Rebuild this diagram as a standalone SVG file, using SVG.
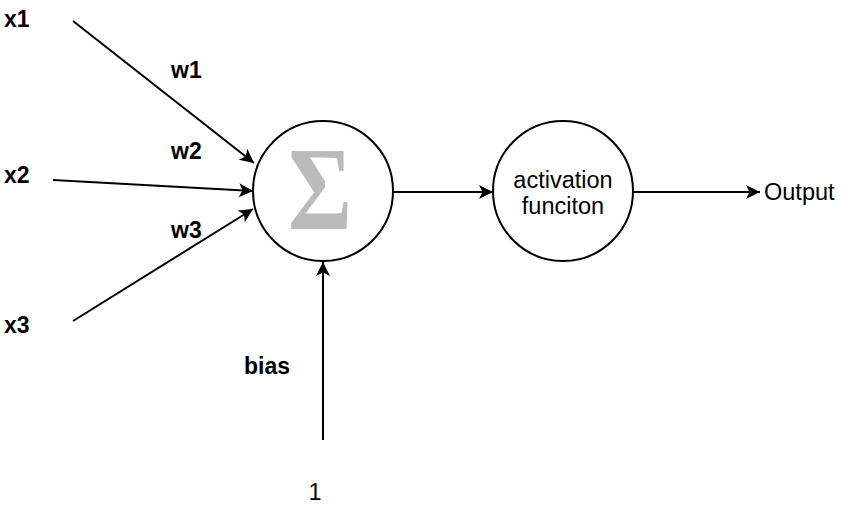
<svg xmlns="http://www.w3.org/2000/svg" width="862" height="514" viewBox="0 0 862 514">
<style>
.lbl{font-family:"Liberation Sans",Arial,sans-serif;font-size:23px;font-weight:bold;fill:#000}
.txt{font-family:"Liberation Sans",Arial,sans-serif;font-size:23.5px;fill:#000}
.node{fill:#fff;stroke:#000;stroke-width:2}
.edge{fill:none;stroke:#000;stroke-width:2}
</style>
<defs>
<marker id="arr" markerUnits="userSpaceOnUse" markerWidth="18" markerHeight="18" viewBox="-16 -9 18 18" refX="0" refY="0" orient="auto">
<path d="M0,0 L-14,-7 L-10.5,0 L-14,7 Z" fill="#000"/>
</marker>
</defs>
<rect width="862" height="514" fill="#fff"/>
<g id="connectors">
<line class="edge" x1="73" y1="21" x2="254" y2="163" marker-end="url(#arr)"/>
<line class="edge" x1="53" y1="180" x2="253" y2="191" marker-end="url(#arr)"/>
<line class="edge" x1="73" y1="321" x2="253" y2="209" marker-end="url(#arr)"/>
<line class="edge" x1="323" y1="440" x2="323" y2="262" marker-end="url(#arr)"/>
<line class="edge" x1="393" y1="192" x2="493" y2="192" marker-end="url(#arr)"/>
<line class="edge" x1="633" y1="192" x2="760" y2="192" marker-end="url(#arr)"/>
</g>
<g id="sum">
<circle class="node" cx="323" cy="191" r="70"/>
<text transform="translate(320,229) scale(0.83,1)" text-anchor="middle" font-family="'Liberation Serif','Times New Roman',serif" font-weight="bold" font-size="118" fill="#bbbbbb">Σ</text>
</g>
<g id="activation">
<circle class="node" cx="563" cy="191" r="70"/>
<text class="txt" x="563" y="188" text-anchor="middle">activation</text>
<text class="txt" x="563" y="214" text-anchor="middle">funciton</text>
</g>
<g id="x1"><text class="lbl" x="4" y="27">x1</text></g>
<g id="x2"><text class="lbl" x="4" y="183">x2</text></g>
<g id="x3"><text class="lbl" x="4" y="333">x3</text></g>
<g id="w1"><text class="lbl" x="171" y="78">w1</text></g>
<g id="w2"><text class="lbl" x="171" y="159">w2</text></g>
<g id="w3"><text class="lbl" x="171" y="238">w3</text></g>
<g id="bias"><text class="lbl" x="244" y="374">bias</text></g>
<g id="one"><text class="txt" x="315" y="500" text-anchor="middle">1</text></g>
<g id="output"><text class="txt" x="764" y="200">Output</text></g>
</svg>
